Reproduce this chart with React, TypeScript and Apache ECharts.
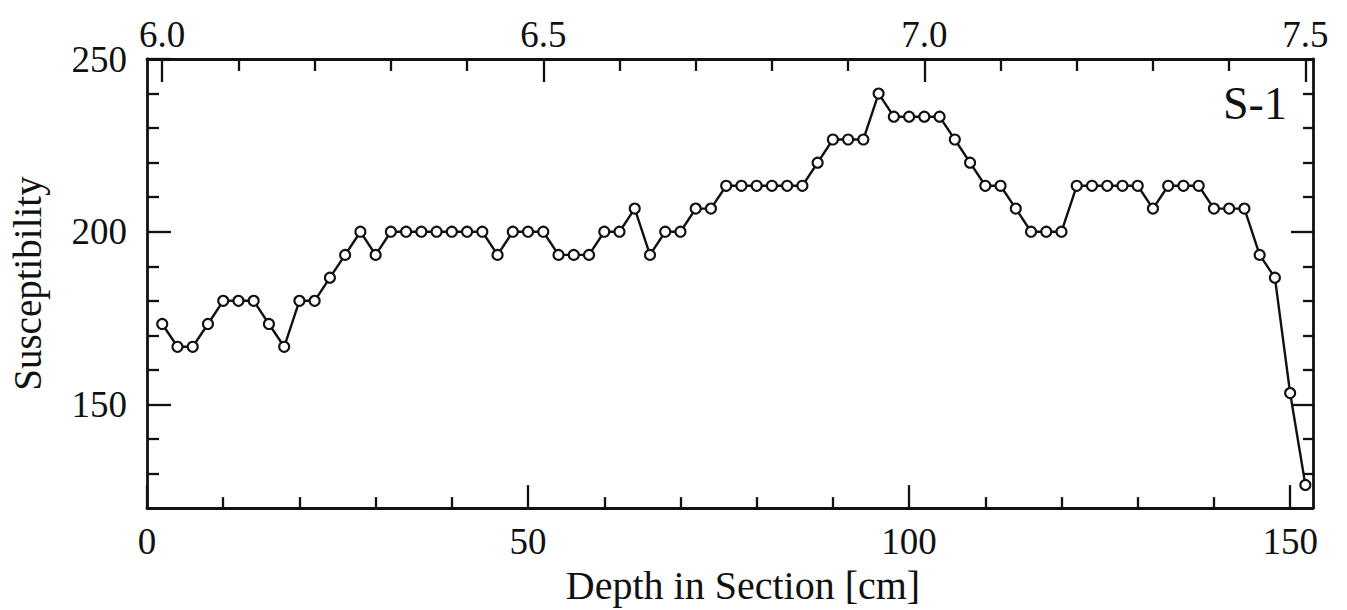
import React, { useEffect, useRef } from "react";
import * as echarts from "echarts";

// Depth below the top of the section (cm) and magnetic susceptibility readings
const depthCm = [
  2, 4, 6, 8, 10, 12, 14, 16, 18, 20, 22, 24, 26, 28, 30, 32, 34, 36, 38, 40,
  42, 44, 46, 48, 50, 52, 54, 56, 58, 60, 62, 64, 66, 68, 70, 72, 74, 76, 78, 80,
  82, 84, 86, 88, 90, 92, 94, 96, 98, 100, 102, 104, 106, 108, 110, 112, 114, 116, 118, 120,
  122, 124, 126, 128, 130, 132, 134, 136, 138, 140, 142, 144, 146, 148, 150, 152,
];
const susceptibility = [
  173.3, 166.7, 166.7, 173.3, 180, 180, 180, 173.3, 166.7, 180,
  180, 186.7, 193.3, 200, 193.3, 200, 200, 200, 200, 200,
  200, 200, 193.3, 200, 200, 200, 193.3, 193.3, 193.3, 200,
  200, 206.7, 193.3, 200, 200, 206.7, 206.7, 213.3, 213.3, 213.3,
  213.3, 213.3, 213.3, 220, 226.7, 226.7, 226.7, 240, 233.3, 233.3,
  233.3, 233.3, 226.7, 220, 213.3, 213.3, 206.7, 200, 200, 200,
  213.3, 213.3, 213.3, 213.3, 213.3, 206.7, 213.3, 213.3, 213.3, 206.7,
  206.7, 206.7, 193.3, 186.7, 153.3, 126.7,
];

// Bottom axis: depth in section (cm)
const depthMin = 0;
const depthMax = 153;
const bottomMajorTicks = [0, 50, 100, 150];
const bottomMinorTicks = [10, 20, 30, 40, 60, 70, 80, 90, 110, 120, 130, 140];

// Top axis: absolute depth (m); the section starts at 5.98 m
const sectionTopM = 5.98;
const topMajorTicks = [6.0, 6.5, 7.0, 7.5];
const topMinorTicks = [6.1, 6.2, 6.3, 6.4, 6.6, 6.7, 6.8, 6.9, 7.1, 7.2, 7.3, 7.4];

// Vertical axis: susceptibility
const suscMin = 120;
const suscMax = 250;
const leftMajorTicks = [150, 200, 250];
const rightMajorTicks = [150, 200];
const yMinorTicks = [130, 140, 160, 170, 180, 190, 210, 220, 230, 240];

const panelLabel = "S-1";
const xTitle = "Depth in Section [cm]";
const yTitle = "Susceptibility";

const INK = "#111";
const SERIF = '"Liberation Serif", "Times New Roman", serif';

export default function App() {
  const ref = useRef<HTMLDivElement>(null);

  useEffect(() => {
    if (!ref.current) return;
    const chart = echarts.init(ref.current, undefined, { renderer: "svg" });

    const tickAxis = (
      extra: any,
      ticks: number[],
      len: number,
      labels: number[] | null,
      showLine: boolean
    ) => ({
      type: "value",
      splitLine: { show: false },
      axisLine: { show: showLine, onZero: false, lineStyle: { color: INK, width: 2.8 } },
      axisTick: {
        show: true,
        inside: true,
        length: len,
        customValues: ticks,
        lineStyle: { color: INK, width: 2.3 },
      },
      axisLabel: labels
        ? {
            show: true,
            customValues: labels,
            color: INK,
            fontFamily: SERIF,
            fontSize: 37,
          }
        : { show: false },
      ...extra,
    });

    const xBottom = { position: "bottom", min: depthMin, max: depthMax };
    const xTop = {
      position: "top",
      min: sectionTopM + depthMin / 100,
      max: sectionTopM + depthMax / 100,
    };
    const yLeft = { position: "left", min: suscMin, max: suscMax };
    const yRight = { position: "right", min: suscMin, max: suscMax };

    const bottomMain: any = tickAxis(xBottom, bottomMajorTicks, 23, bottomMajorTicks, true);
    bottomMain.axisLabel.margin = 15;
    bottomMain.name = xTitle;
    bottomMain.nameLocation = "middle";
    bottomMain.nameGap = 50;
    bottomMain.nameTextStyle = {
      color: INK,
      fontFamily: SERIF,
      fontSize: 40,
      padding: [0, 0, 0, 26],
    };

    const topMain: any = tickAxis(xTop, topMajorTicks, 23, topMajorTicks, true);
    topMain.axisLabel.margin = 6;
    topMain.axisLabel.formatter = (v: number) => v.toFixed(1);

    const leftMain: any = tickAxis(yLeft, leftMajorTicks, 24, leftMajorTicks, true);
    leftMain.axisLabel.margin = 20;
    leftMain.name = yTitle;
    leftMain.nameLocation = "middle";
    leftMain.nameGap = 100;
    leftMain.nameTextStyle = { color: INK, fontFamily: SERIF, fontSize: 39 };

    const rightMain: any = tickAxis(yRight, rightMajorTicks, 22, null, true);

    chart.setOption({
      animation: false,
      backgroundColor: "#fff",
      grid: { left: 147, right: 34, top: 59, bottom: 96, containLabel: false },
      xAxis: [
        bottomMain,
        tickAxis(xBottom, bottomMinorTicks, 11, null, false),
        topMain,
        tickAxis(xTop, topMinorTicks, 12, null, false),
      ],
      yAxis: [
        leftMain,
        tickAxis(yLeft, yMinorTicks, 12, null, false),
        rightMain,
        tickAxis(yRight, yMinorTicks, 10, null, false),
      ],
      graphic: [
        {
          type: "text",
          left: 1223,
          top: 80,
          style: {
            text: panelLabel,
            fill: INK,
            font: `46px ${SERIF}`,
          },
        },
      ],
      series: [
        {
          type: "line",
          xAxisIndex: 0,
          yAxisIndex: 0,
          data: depthCm.map((d, i) => [d, susceptibility[i]]),
          symbol: "circle",
          symbolSize: 10,
          showAllSymbol: true,
          lineStyle: { color: INK, width: 2.4 },
          itemStyle: { color: "#fff", borderColor: INK, borderWidth: 2.1 },
          z: 5,
        },
      ],
    });

    return () => chart.dispose();
  }, []);

  return (
    <div
      ref={ref}
      style={{ position: "absolute", left: 0, top: 0, width: 1347, height: 610 }}
    />
  );
}
